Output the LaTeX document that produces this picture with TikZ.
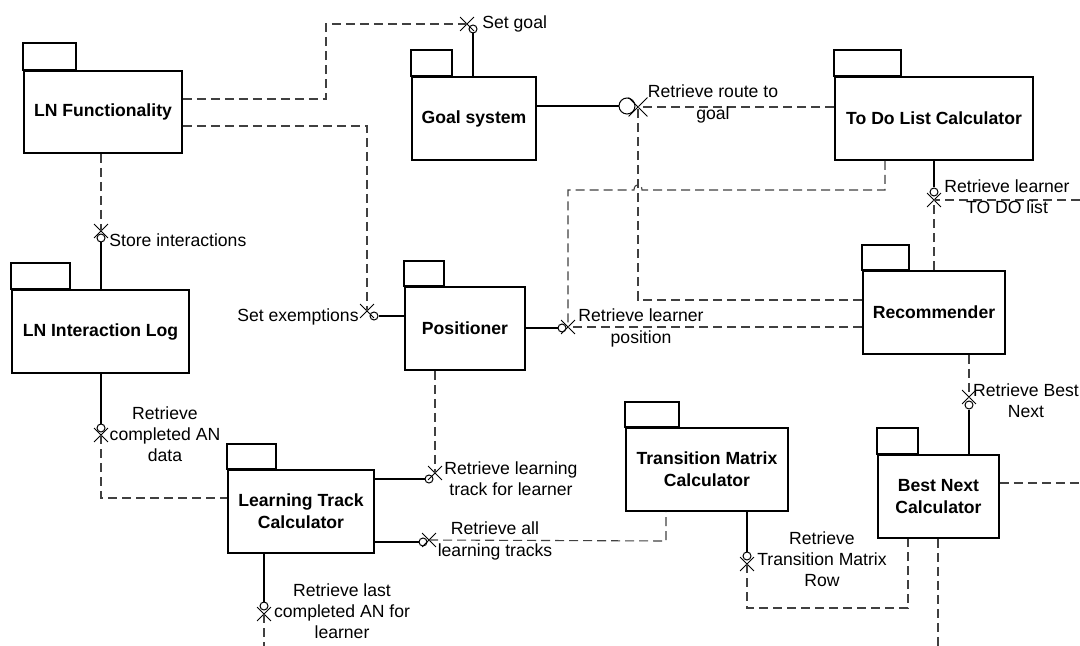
\documentclass[tikz,border=0pt]{standalone}
\usepackage{fontspec}
\setmainfont{Liberation Sans}
\usetikzlibrary{calc}
\tikzset{
  pkg/.style={draw, line width=0.85pt, inner sep=0pt, align=center, font=\bfseries\fontsize{8.8}{11}\selectfont},
  tabline/.style={draw, line width=0.85pt},
  lbl/.style={align=center, inner sep=0pt, font=\fontsize{8.8}{10.6}\selectfont},
  lolly/.style={draw, circle, inner sep=0pt, minimum size=4pt, line width=0.5pt},
  sockn/.style={rectangle, inner sep=0pt, minimum size=6.5pt},
  sockline/.style={line width=0.5pt},
  sol/.style={line width=0.55pt},
  dep/.style={dash pattern=on 4.5pt off 2.5pt, line width=0.55pt, black!75}
}
\newcommand\sockX[3][]{\node[sockn,#1] (#2) at (#3) {};
  \draw[sockline] (#2.north west) -- (#2.south east) (#2.north east) -- (#2.south west);}
\begin{document}
\begin{tikzpicture}[x=0.5pt,y=-0.5pt]
\useasboundingbox (0,0) rectangle (1080,646);
% packages
\node[pkg, minimum width=79pt, minimum height=41pt] (lnf) at (103,112) {LN Functionality};
\draw[tabline] (lnf.north west) rectangle ++(53,-27);
\node[pkg, minimum width=62pt, minimum height=41.5pt] (goal) at (474,118.5) {Goal system};
\draw[tabline] (goal.north west) rectangle ++(41,-26);
\node[pkg, minimum width=99pt, minimum height=41.5pt] (todo) at (934,118.5) {To Do List Calculator};
\draw[tabline] (todo.north west) rectangle ++(67,-26);
\node[pkg, minimum width=88.5pt, minimum height=41.5pt] (lnil) at (100.5,331.5) {LN Interaction Log};
\draw[tabline] (lnil.north west) rectangle ++(59,-26);
\node[pkg, minimum width=60pt, minimum height=41.5pt] (pos) at (465,328.5) {Positioner};
\draw[tabline] (pos.north west) rectangle ++(40,-25);
\node[pkg, minimum width=71pt, minimum height=41.5pt] (rec) at (934,312.5) {Recommender};
\draw[tabline] (rec.north west) rectangle ++(47,-25);
\node[pkg, minimum width=81pt, minimum height=41.5pt] (tmc) at (707,469.5) {Transition Matrix\\Calculator};
\draw[tabline] (tmc.north west) rectangle ++(54,-25);
\node[pkg, minimum width=60.5pt, minimum height=41.5pt] (bnc) at (938.5,496.5) {Best Next\\Calculator};
\draw[tabline] (bnc.north west) rectangle ++(41,-26);
\node[pkg, minimum width=73pt, minimum height=41.5pt] (ltc) at (301,511.5) {Learning Track\\Calculator};
\draw[tabline] (ltc.north west) rectangle ++(49,-25);

% Set goal
\node[lolly] (c1) at (473,29) {};
\sockX{s1}{467,24}
\coordinate (a1) at (326,99);
\draw[sol] (goal.north -| c1) -- (c1.south);
\draw[dep] (lnf.east |- a1) -- (a1) -- (a1 |- s1) -- (s1.center);

% Set exemptions
\node[lolly] (c2) at (374,316) {};
\sockX{s2}{367,311}
\coordinate (b1) at (367,126);
\draw[sol] (pos.west |- c2) -- (c2.east);
\draw[dep] (lnf.east |- b1) -- (b1) -- (s2.center);

% Store interactions
\node[lolly] (c3) at (101,238) {};
\sockX{s3}{101,231}
\draw[sol] (c3.south) -- (c3 |- lnil.north);
\draw[dep] (s3 |- lnf.south) -- (s3.center);

% Retrieve completed AN data
\node[lolly] (c4) at (101,428) {};
\sockX{s4}{101,435}
\coordinate (d1) at (101,498);
\draw[sol] (c4 |- lnil.south) -- (c4.north);
\draw[dep] (s4.center) -- (d1) -- (d1 -| ltc.west);

% Retrieve learning track for learner
\node[lolly] (c5) at (429,479) {};
\sockX{s5}{435,473}
\draw[sol] (ltc.east |- c5) -- (c5.west);
\draw[dep] (s5 |- pos.south) -- (s5.center);

% Retrieve all learning tracks
\node[lolly] (c6) at (423,542) {};
\sockX{s6}{429,540}
\coordinate (f1) at (666,541);
\draw[sol] (ltc.east |- c6) -- (c6.west);
\draw[dep] (s6.center) -- (f1) -- (f1 |- tmc.south);

% Retrieve last completed AN
\node[lolly] (c7) at (264,606) {};
\sockX{s7}{264,614}
\coordinate (g1) at (264,646);
\draw[sol] (c7 |- ltc.south) -- (c7.north);
\draw[dep] (s7.center) -- (g1);

% Retrieve route to goal
\node[lolly, minimum size=8pt] (c8) at (627,106) {};
\sockX[minimum size=9pt]{s8}{638,107}
\coordinate (h1) at (638,300);
\draw[sol] (goal.east |- c8) -- (c8.west);
\draw[dep] (todo.west |- s8) -- (s8.center);
\draw[dep] (rec.west |- h1) -- (h1) -- (s8.center);

% Retrieve learner position
\node[lolly] (c9) at (562,328) {};
\sockX{s9}{568,327}
\coordinate (i1) at (885,190);
\coordinate (i2) at (568,190);
\draw[sol] (pos.east |- c9) -- (c9.west);
\draw[dep] (rec.west |- s9) -- (s9.center);
\draw[dep] (i1 |- todo.south) -- (i1) -- ($(h1 |- i1)+(4,0)$)
  .. controls ($(h1 |- i1)+(4,-7)$) and ($(h1 |- i1)+(-4,-7)$) .. ($(h1 |- i1)+(-4,0)$)
  -- (i2) -- (s9.center);

% Retrieve learner TO DO list
\node[lolly] (c10) at (934,192) {};
\sockX{s10}{934,200}
\coordinate (j1) at (1080,200);
\draw[sol] (c10 |- todo.south) -- (c10.north);
\draw[dep] (s10 |- rec.north) -- (s10.center);
\draw[dep] (j1) -- (s10.center);

% Retrieve Best Next
\node[lolly] (c11) at (969,405) {};
\sockX{s11}{969,397}
\draw[sol] (c11.south) -- (c11 |- bnc.north);
\draw[dep] (s11 |- rec.south) -- (s11.center);

% Retrieve Transition Matrix Row
\node[lolly] (c12) at (747,556) {};
\sockX{s12}{747,564}
\coordinate (l1) at (747,608);
\coordinate (l2) at (908,608);
\draw[sol] (c12 |- tmc.south) -- (c12.north);
\draw[dep] (s12.center) -- (l1) -- (l2) -- (l2 |- bnc.south);

% loose ends of Best Next
\coordinate (m1) at (938,646);
\coordinate (m2) at (1080,483);
\draw[dep] (m1 |- bnc.south) -- (m1);
\draw[dep] (bnc.east |- m2) -- (m2);

% labels
\node[lbl, anchor=west] (tsg) at (482,24) {Set goal};
\node[lbl, anchor=east] (tse) at (359,317) {Set exemptions};
\node[lbl, anchor=west] (tsi) at (109,240) {Store interactions};
\node[lbl] (tca) at (165,434) {Retrieve\\completed AN\\data};
\node[lbl] (tlt) at (511,479) {Retrieve learning\\track for learner};
\node[lbl] (tal) at (495,541) {Retrieve all\\learning tracks};
\node[lbl] (tlc) at (342,611) {Retrieve last\\completed AN for\\learner};
\node[lbl] (trg) at (713,104) {Retrieve route to\\goal};
\node[lbl] (tlp) at (641,328) {Retrieve learner\\position};
\node[lbl] (ttd) at (1007,197) {Retrieve learner\\TO DO list};
\node[lbl] (tbn) at (1026,401) {Retrieve Best\\Next};
\node[lbl] (ttm) at (822,559) {Retrieve\\Transition Matrix\\Row};
\end{tikzpicture}
\end{document}
